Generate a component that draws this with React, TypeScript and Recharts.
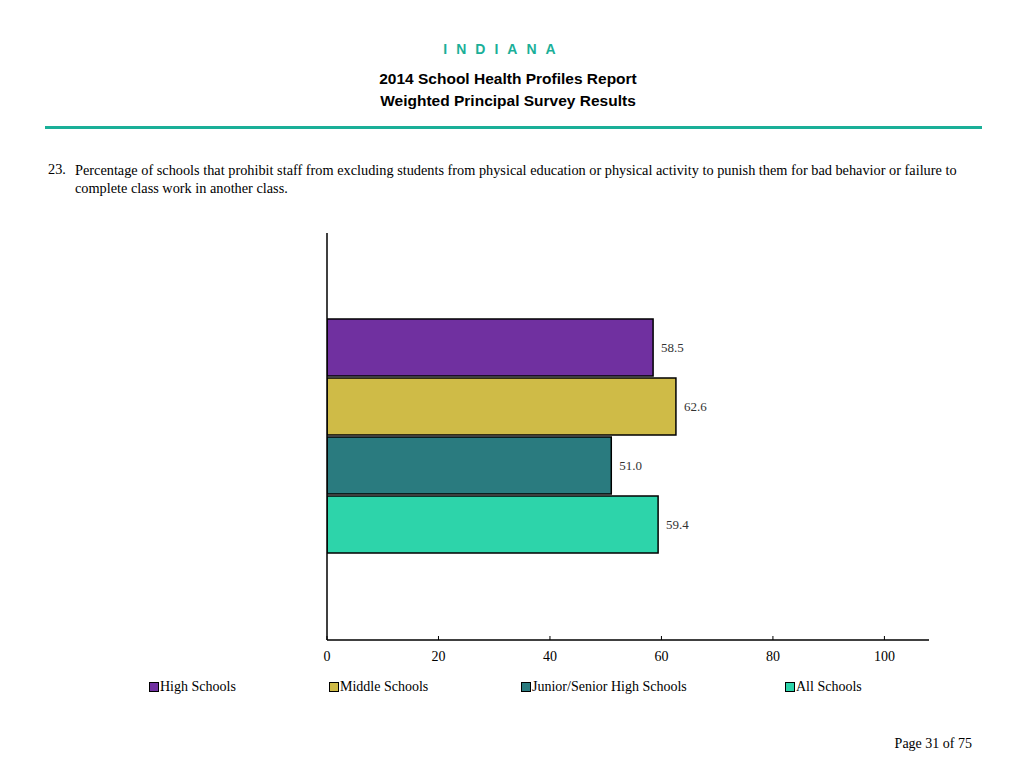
import { BarChart, Bar, XAxis, YAxis, LabelList } from "recharts";

const categories = ["Q23"];
const seriesNames = ["High Schools", "Middle Schools", "Junior/Senior High Schools", "All Schools"];
const highSchools = [58.5];
const middleSchools = [62.6];
const juniorSenior = [51.0];
const allSchools = [59.4];
const xTicks = [0, 20, 40, 60, 80, 100];

const colors = ["#7030a0", "#cfbb47", "#2a7b7f", "#2dd4aa"];
const keys = ["high", "middle", "junior", "all"];
const legendLeft = [149, 329, 521, 785];

const data = categories.map((name, i) => ({
  name,
  high: highSchools[i],
  middle: middleSchools[i],
  junior: juniorSenior[i],
  all: allSchools[i],
}));

const serif = "'Liberation Serif', 'Times New Roman', serif";
const sans = "'Liberation Sans', Arial, sans-serif";

const App = () => {
  return (
    <div style={{ position: "absolute", left: 0, top: 0, width: 1024, height: 768, background: "#fff", fontFamily: serif }}>
      <div style={{ position: "absolute", top: 41, left: -8, width: 1024, textAlign: "center", fontFamily: sans, fontWeight: "bold", fontSize: 14, color: "#1aaf98", letterSpacing: 9 }}>
        INDIANA
      </div>
      <div style={{ position: "absolute", top: 68, left: -4, width: 1024, textAlign: "center", fontFamily: sans, fontWeight: "bold", fontSize: 15.5, color: "#000", lineHeight: "22px" }}>
        2014 School Health Profiles Report
        <br />
        Weighted Principal Survey Results
      </div>
      <div style={{ position: "absolute", top: 126, left: 45, width: 937, height: 3, background: "#1aaf98" }} />
      <div style={{ position: "absolute", top: 161, left: 48, fontSize: 14.3, color: "#000" }}>23.</div>
      <div style={{ position: "absolute", top: 161, left: 75, width: 900, fontSize: 14.3, color: "#000", lineHeight: "18px" }}>
        Percentage of schools that prohibit staff from excluding students from physical education or physical activity to punish them for bad behavior or failure to complete class work in another class.
      </div>

      <div style={{ position: "absolute", left: 0, top: 220 }}>
        <BarChart
          width={1024}
          height={460}
          data={data}
          layout="vertical"
          margin={{ top: 13, right: 95, bottom: 0, left: 326 }}
          barGap={2}
          barCategoryGap={86}
        >
          <XAxis
            type="number"
            domain={[0, 108]}
            ticks={xTicks}
            height={40}
            tickSize={-4}
            tickMargin={15}
            axisLine={{ stroke: "#000", strokeWidth: 1.5 }}
            tickLine={{ stroke: "#000" }}
            tick={{ fill: "#000", stroke: "none", fontSize: 14, fontFamily: serif }}
            allowDataOverflow
          />
          <YAxis
            type="category"
            dataKey="name"
            width={1}
            tick={false}
            tickLine={false}
            axisLine={{ stroke: "#000", strokeWidth: 1.5 }}
          />
          {keys.map((k, i) => (
            <Bar key={k} dataKey={k} name={seriesNames[i]} fill={colors[i]} stroke="#000" strokeWidth={1.5} isAnimationActive={false}>
              <LabelList
                dataKey={k}
                position="right"
                offset={8}
                formatter={(v: any) => Number(v).toFixed(1)}
                style={{ fill: "#333", stroke: "none", fontSize: 13, fontFamily: serif }}
              />
            </Bar>
          ))}
        </BarChart>
      </div>

      {seriesNames.map((s, i) => (
        <div key={s} style={{ position: "absolute", top: 679, left: legendLeft[i], display: "flex", alignItems: "center", fontSize: 14, color: "#000" }}>
          <span style={{ display: "inline-block", width: 8, height: 8, background: colors[i], border: "1px solid #000", marginRight: 1 }} />
          {s}
        </div>
      ))}

      <div style={{ position: "absolute", top: 736, right: 52, fontSize: 14, color: "#000" }}>Page 31 of 75</div>
    </div>
  );
};

export default App;
